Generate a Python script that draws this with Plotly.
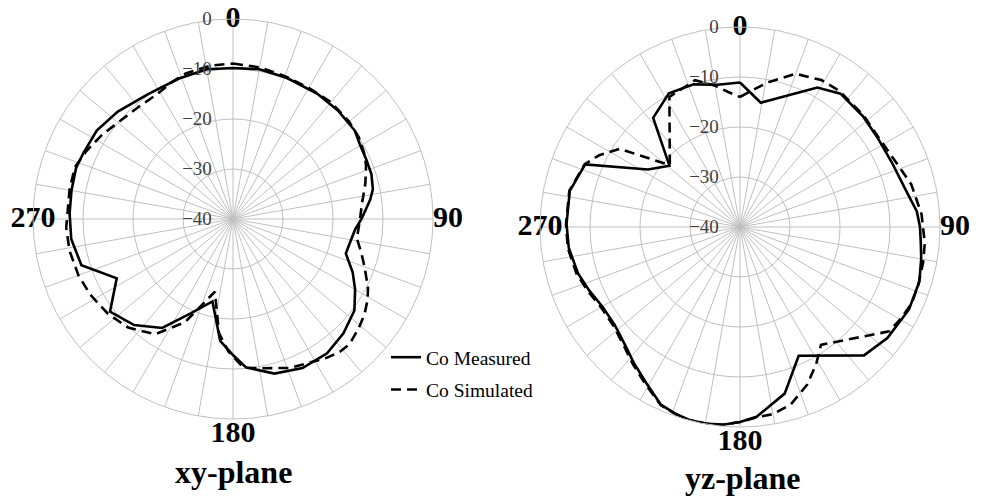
import plotly.graph_objects as go

# ---- radiation pattern data (dB), angles in degrees ----
xy_meas_theta = [0, 10, 21, 34, 44, 54, 60, 66, 72, 78, 82, 86, 90, 95, 101, 107,
                 114, 120, 127, 136, 145, 155, 165, 175, 180, 186, 194, 204, 213,
                 223, 233, 243, 253, 263, 272, 280, 288, 294, 303, 313, 326, 339,
                 350, 360]
xy_meas_db = [-9.8, -9.6, -9.8, -9.8, -9.8, -9.9, -10.6, -10.8, -10.9, -11.4, -12.3,
              -13.4, -14.3, -15.5, -16.1, -16.4, -13.8, -11.8, -9.6, -8.2, -7.2, -7.1,
              -8.0, -10.2, -12.8, -15.5, -23.0, -19.4, -14.0, -11.0, -9.2, -13.9, -8.3,
              -7.4, -7.3, -7.2, -7.0, -7.3, -7.5, -8.5, -9.8, -9.9, -9.6, -9.8]

xy_sim_theta = [0, 10, 20, 30, 40, 50, 57, 63, 68, 75, 83, 90, 99, 105, 110, 117,
                121, 126, 131, 137, 141, 146, 159, 169, 176, 182, 187, 194, 205, 214,
                224, 233, 242, 250, 259, 267, 280, 288, 295, 303, 312, 320, 328, 336,
                342, 352, 360]
xy_sim_db = [-8.9, -9.2, -9.6, -9.7, -9.5, -9.7, -10.0, -10.6, -11.3, -12.6, -14.0,
             -14.6, -14.9, -13.4, -12.0, -9.7, -8.6, -7.5, -6.7, -5.8, -5.9, -6.5,
             -8.1, -9.6, -10.2, -13.5, -17.0, -25.0, -17.2, -12.2, -9.8, -8.6, -7.7,
             -7.1, -6.7, -6.6, -6.8, -6.7, -7.7, -8.9, -10.2, -10.7, -10.8, -10.0,
             -9.4, -9.0, -8.9]

yz_meas_theta = [0, 9.5, 29, 37, 48, 57, 67, 77, 85, 90, 95, 100, 107, 116, 120, 127,
                 136, 155.5, 165, 175, 180, 185, 190, 195, 199, 204, 211, 218, 224,
                 232, 240, 247, 254, 263, 271, 282, 292, 302, 311, 321.5, 332, 342,
                 351, 360]
yz_meas_db = [-11.1, -14.8, -8.1, -6.6, -6.9, -7.2, -7.0, -6.1, -4.5, -4.0, -3.7, -3.2,
              -2.5, -2.4, -2.8, -3.1, -4.3, -11.7, -5.5, -1.9, -1.0, -0.3, -0.1, -0.1,
              -0.5, -1.1, -3.6, -5.5, -7.0, -8.2, -8.2, -7.3, -6.3, -5.5, -5.3, -5.2,
              -6.6, -18.3, -21.3, -12.1, -9.7, -10.0, -11.2, -11.1]

yz_sim_theta = [0, 5, 11, 20, 29, 36, 48, 57, 64, 76, 86, 95, 101, 108, 114, 120, 125,
                145.5, 151, 157, 164, 170, 175, 180, 185, 190, 195, 199, 204, 211, 218,
                224, 232, 240, 247, 254, 263, 271, 282, 292, 297, 303, 311.4, 331.5,
                343, 350, 355, 360]
yz_sim_db = [-14.0, -12.6, -10.5, -7.4, -6.4, -6.3, -6.7, -7.0, -6.6, -4.7, -3.6, -2.9,
             -2.7, -2.5, -2.4, -3.0, -3.6, -11.4, -8.6, -5.7, -3.1, -2.0, -1.8, -1.0,
             -0.3, -0.1, -0.1, -0.4, -1.0, -3.3, -5.2, -6.7, -7.9, -7.9, -7.0, -6.0,
             -5.3, -5.2, -5.1, -6.5, -8.4, -11.3, -21.3, -10.4, -9.3, -11.3, -12.9,
             -14.0]

degree_ticks = [0, 90, 180, 270]
degree_text = ["0", "90", "180", "270"]
radial_ticks = [-40, -30, -20, -10, 0]
plane_titles = ["xy-plane", "yz-plane"]
series_names = ["Co Measured", "Co Simulated"]

SERIF = "Times New Roman, Liberation Serif, serif"
GRID = "#c0c0c0"
INK = "black"

fig = go.Figure()

panels = [
    ("polar", xy_meas_theta, xy_meas_db, xy_sim_theta, xy_sim_db, True),
    ("polar2", yz_meas_theta, yz_meas_db, yz_sim_theta, yz_sim_db, False),
]
for sub, mt, mr, st, sr, show in panels:
    fig.add_trace(go.Scatterpolar(
        theta=mt, r=mr, mode="lines", subplot=sub, name=series_names[0],
        line=dict(color=INK, width=2.6), showlegend=show, legendgroup="meas",
        legendrank=1))
    fig.add_trace(go.Scatterpolar(
        theta=st, r=sr, mode="lines", subplot=sub, name=series_names[1],
        line=dict(color=INK, width=2.6, dash="10px,6px"), showlegend=show,
        legendgroup="sim", legendrank=2))
    # bold angle labels sitting on the outer ring
    fig.add_trace(go.Scatterpolar(
        theta=degree_ticks, r=[0] * 4, mode="text", text=degree_text, subplot=sub,
        textposition=["middle center", "middle right", "bottom center", "middle center"],
        textfont=dict(family=SERIF, size=30, color=INK, weight="bold"),
        cliponaxis=False, showlegend=False, hoverinfo="skip"))


def polar_layout(xdom, ydom):
    return dict(
        domain=dict(x=xdom, y=ydom),
        bgcolor="white",
        angularaxis=dict(
            rotation=90, direction="clockwise", tickmode="array",
            tickvals=list(range(0, 360, 10)), showticklabels=False, ticks="",
            gridcolor=GRID, gridwidth=1, showline=True, linecolor=GRID, linewidth=1),
        radialaxis=dict(
            range=[-40, 0], tickmode="array", tickvals=radial_ticks, angle=90,
            tickangle=90, side="counterclockwise", showline=False,
            ticks="outside", ticklen=14, tickcolor="rgba(0,0,0,0)",
            gridcolor=GRID, gridwidth=1,
            tickfont=dict(family=SERIF, size=19, color="#404040")),
    )


fig.update_layout(
    width=985, height=497,
    margin=dict(l=0, r=0, t=0, b=0),
    paper_bgcolor="white",
    polar=polar_layout([33 / 985, 433 / 985], [1 - 419 / 497, 1 - 19 / 497]),
    polar2=polar_layout([540 / 985, 940 / 985], [1 - 427 / 497, 1 - 27 / 497]),
    legend=dict(x=386 / 985, y=1 - 338 / 497, xanchor="left", yanchor="top",
                font=dict(family=SERIF, size=19.5, color=INK),
                tracegroupgap=4, bgcolor="rgba(0,0,0,0)"),
    showlegend=True,
)

for title, cx, cy in [(plane_titles[0], 233, 472), (plane_titles[1], 743, 478)]:
    fig.add_annotation(text=title, x=cx / 985, y=1 - cy / 497, xref="paper", yref="paper",
                       showarrow=False, xanchor="center", yanchor="middle",
                       font=dict(family=SERIF, size=32, color=INK, weight="bold"))

fig.write_html("out.html")
